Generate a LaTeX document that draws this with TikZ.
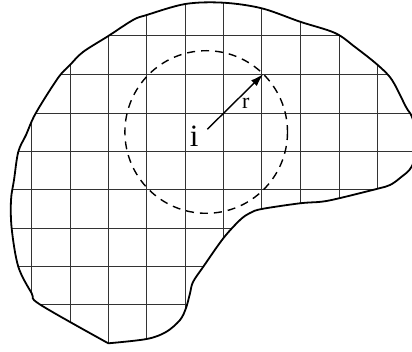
\documentclass[tikz,border=0pt]{standalone}
\usepackage{fontspec}
\setmainfont{Liberation Serif}
\usetikzlibrary{arrows.meta}

% outline of the region, in pixel units
\newcommand\regionpath{plot[smooth,tension=0.55] coordinates {
  (108.3,343.3) (40,304.5) (31.7,293.3) (18.3,266.7) (11.7,228.7) (11,200)
  (14,180) (18.3,151.7) (26,135) (35.7,113.3) (58,78) (70,65) (83,52)
  (108.3,36) (133,20) (146.7,15) (185.3,4) (223.3,2.7) (261.7,8.3)
  (300,21.7) (335,33) (355,47) (377.7,65) (392,80) (406,107) (412,117)
  (418,140) (412,166) (400,178) (390,185) (377.7,188.7) (339,198.3)
  (321.7,201.7) (300,203.3) (261.7,209) (250,213) (240,220) (223.3,238.3)
  (203.3,266.7) (193,282) (190,293.3) (186,308) (180,320) (166,332)
  (146.7,339) (108.3,343.3)} -- cycle}

\begin{document}
\begin{tikzpicture}[x=1pt,y=-1pt,line join=round,
  gridline/.style={black!80,line width=1pt},
  outline/.style={line width=1.8pt},
  ring/.style={dash pattern=on 8pt off 6pt,line width=1.4pt}]
  \useasboundingbox (0,0) rectangle (412,352);
  \clip (0,0) rectangle (412,352);
  \coordinate (ctr) at (206.2,132);
  \coordinate (tail) at (207.3,129.3);
  \coordinate (rim) at (263.3,74);
  % grid inside the region
  \begin{scope}
    \clip \regionpath;
    \draw[gridline] (31.7,0) -- (31.7,352);
    \draw[gridline] (70,0) -- (70,352);
    \draw[gridline] (108.3,0) -- (108.3,352);
    \draw[gridline] (146.7,0) -- (146.7,352);
    \draw[gridline] (185.3,0) -- (185.3,352);
    \draw[gridline] (223.3,0) -- (223.3,352);
    \draw[gridline] (261.7,0) -- (261.7,352);
    \draw[gridline] (300,0) -- (300,352);
    \draw[gridline] (339,0) -- (339,352);
    \draw[gridline] (377.7,0) -- (377.7,352);
    \draw[gridline] (0,36) -- (420,36);
    \draw[gridline] (0,74.7) -- (420,74.7);
    \draw[gridline] (0,113.3) -- (420,113.3);
    \draw[gridline] (0,151.7) -- (420,151.7);
    \draw[gridline] (0,190) -- (420,190);
    \draw[gridline] (0,228.7) -- (420,228.7);
    \draw[gridline] (0,266.7) -- (420,266.7);
    \draw[gridline] (0,304.7) -- (420,304.7);
  \end{scope}
  \draw[outline] \regionpath;
  \draw[ring] (ctr) circle (81.3);
  \draw[line width=1.4pt,-{Latex[length=13pt,width=8pt]}] (tail) -- (rim);
  \node[font=\fontsize{31}{33}\selectfont,anchor=base] (lbli) at (194.3,146.7) {i};
  \node[font=\fontsize{22}{24}\selectfont,anchor=base] (lblr) at (245.7,108.5) {r};
\end{tikzpicture}
\end{document}
